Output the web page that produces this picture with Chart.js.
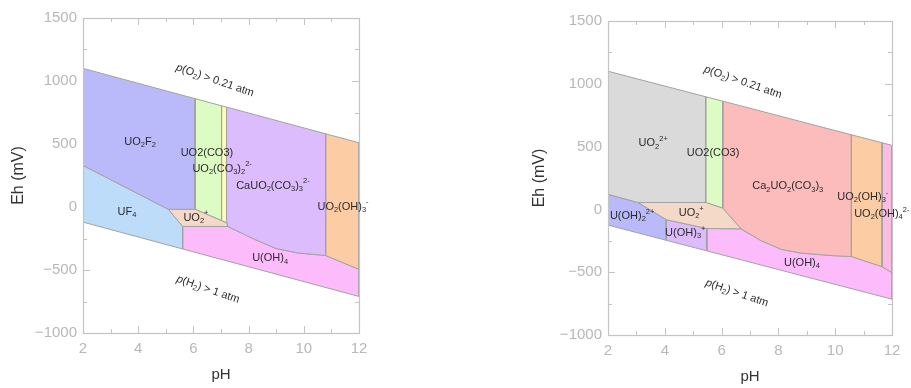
<!DOCTYPE html>
<html lang="en">
<head>
<meta charset="UTF-8">
<title>Eh-pH diagrams</title>
<script src="https://cdn.jsdelivr.net/npm/chart.js"></script>
<style>
  body { margin: 0; background: #fff; }
  canvas { position: absolute; top: 0; }
  #leftChart { left: 0; }
  #rightChart { left: 460px; }
</style>
</head>
<body>
<canvas id="leftChart" width="380" height="388"></canvas>
<canvas id="rightChart" width="451" height="388"></canvas>
<script>
// axis ticks
const phTicks = [2, 4, 6, 8, 10, 12];
const phMinor = [3, 5, 7, 9, 11];
const ehTicks = [-1000, -500, 0, 500, 1000, 1500];
const ehMinor = [-750, -250, 250, 750, 1250];

// left diagram: stability fields as [pH, Eh (mV)] vertices
const leftUO2F2 = [[2, 1100], [6.06, 860], [6.06, -18], [5.09, -18], [2, 330]];
const leftUF4 = [[2, 330], [5.09, -18], [5.61, -155], [5.61, -333], [2, -120]];
const leftUO2p = [[5.09, -18], [6.06, -18], [7.2, -125], [7.25, -155], [5.61, -155]];
const leftUO2CO3 = [[6.06, 860], [7.02, 803], [7.02, -108], [6.06, -18]];
const leftUO2CO32 = [[7.02, 803], [7.2, 793], [7.2, -125], [7.02, -108]];
const leftCaUO2 = [[7.2, 793], [10.79, 581], [10.79, -385], [9.8, -365], [9.0, -330], [8.2, -255], [7.25, -155], [7.2, -125]];
const leftUO2OH3 = [[10.79, 581], [12, 510], [12, -495], [10.79, -385]];
const leftUOH4 = [[5.61, -155], [7.25, -155], [8.2, -255], [9.0, -330], [9.8, -365], [10.79, -385], [12, -495], [12, -710], [5.61, -333]];

// right diagram
const rightUO2 = [[2, 1100], [5.44, 897], [5.44, 55], [3.05, 55], [2, 120]];
const rightUOH2 = [[2, 120], [3.05, 55], [4.05, -82], [4.05, -246], [2, -125]];
const rightUO2p = [[3.05, 55], [5.44, 55], [6.04, 10], [6.68, -155], [5.48, -152], [4.05, -82]];
const rightUOH3 = [[4.05, -82], [5.48, -152], [5.48, -330], [4.05, -246]];
const rightUO2CO3 = [[5.44, 897], [6.04, 862], [6.04, 10], [5.44, 55]];
const rightCa2UO2 = [[6.04, 862], [10.57, 594], [10.57, -375], [9.9, -368], [8.8, -348], [8.1, -318], [7.4, -250], [6.68, -155], [6.04, 10]];
const rightUO2OH3 = [[10.57, 594], [11.65, 531], [11.65, -456], [10.57, -375]];
const rightUO2OH4 = [[11.65, 531], [12, 510], [12, -504], [11.65, -456]];
const rightUOH4 = [[5.48, -152], [6.68, -155], [7.4, -250], [8.1, -318], [8.8, -348], [9.9, -368], [10.57, -375], [11.65, -456], [12, -504], [12, -715], [5.48, -330]];

// labels: position [pH, Eh] and text parts (_ sub, ^ sup, ~ italic)
const leftLabels = [
  {at: [4.07, 517], parts: ['UO', '_2', 'F', '_2']},
  {at: [3.59, -37], parts: ['UF', '_4']},
  {at: [6.49, 429], parts: ['UO2(CO3)']},
  {at: [7.04, 303], parts: ['UO', '_2', '(CO', '_3', ')', '_2', '^2-']},
  {at: [8.88, 168], parts: ['CaUO', '_2', '(CO', '_3', ')', '_3', '^2-']},
  {at: [11.42, 2], parts: ['UO', '_2', '(OH)', '_3', '^-']},
  {at: [6.09, -85], parts: ['UO', '_2', '^+']},
  {at: [8.78, -408], parts: ['U(OH)', '_4']},
  {at: [6.78, 1005], parts: ['~p', '(O', '_2', ') > 0.21 atm'], rot: 19},
  {at: [6.53, -654], parts: ['~p', '(H', '_2', ') > 1 atm'], rot: 19}
];
const rightLabels = [
  {at: [3.59, 527], parts: ['UO', '_2', '^2+']},
  {at: [5.70, 448], parts: ['UO2(CO3)']},
  {at: [8.33, 185], parts: ['Ca', '_2', 'UO', '_2', '(CO', '_3', ')', '_3']},
  {at: [10.97, 98], parts: ['UO', '_2', '(OH)', '_3', '^-']},
  {at: [11.64, -37], parts: ['UO', '_2', '(OH)', '_4', '^2-']},
  {at: [2.85, -53], parts: ['U(OH)', '_2', '^2+']},
  {at: [4.93, -29], parts: ['UO', '_2', '^+']},
  {at: [4.72, -188], parts: ['U(OH)', '_3', '^+']},
  {at: [8.83, -427], parts: ['U(OH)', '_4']},
  {at: [6.75, 1013], parts: ['~p', '(O', '_2', ') > 0.21 atm'], rot: 19},
  {at: [6.54, -666], parts: ['~p', '(H', '_2', ') > 1 atm'], rot: 19}
];

const FONT = '"Liberation Sans", Arial, Helvetica, sans-serif';

function regions(list) {
  return list.map(([pts, color]) => ({
    data: pts.concat([pts[0]]).map(p => ({x: p[0], y: p[1]})),
    backgroundColor: color,
    borderColor: '#a2a2a2',
    borderWidth: 1,
    fill: 'shape',
    showLine: true,
    pointRadius: 0,
    tension: 0
  }));
}

// inward ticks on all sides + frame
const framePlugin = {
  id: 'frame',
  beforeDatasetsDraw(chart) {
    const {ctx, chartArea: a, scales: {x, y}} = chart;
    ctx.save();
    ctx.strokeStyle = '#c4c4c4';
    ctx.lineWidth = 1;
    ctx.beginPath();
    const xt = (v, len) => {
      const px = Math.round(x.getPixelForValue(v)) + 0.5;
      ctx.moveTo(px, a.bottom); ctx.lineTo(px, a.bottom - len);
      ctx.moveTo(px, a.top); ctx.lineTo(px, a.top + len);
    };
    const yt = (v, len) => {
      const py = Math.round(y.getPixelForValue(v)) + 0.5;
      ctx.moveTo(a.left, py); ctx.lineTo(a.left + len, py);
      ctx.moveTo(a.right, py); ctx.lineTo(a.right - len, py);
    };
    phTicks.forEach(v => xt(v, 7));
    phMinor.forEach(v => xt(v, 4));
    ehTicks.forEach(v => yt(v, 7));
    ehMinor.forEach(v => yt(v, 4));
    ctx.stroke();
    ctx.restore();
  },
  afterDatasetsDraw(chart) {
    const {ctx, chartArea: a} = chart;
    ctx.save();
    ctx.strokeStyle = '#c4c4c4';
    ctx.lineWidth = 1.2;
    ctx.strokeRect(Math.round(a.left) + 0.5, Math.round(a.top) + 0.5, Math.round(a.width), Math.round(a.height));
    ctx.restore();
  }
};

const labelPlugin = {
  id: 'regionLabels',
  afterDatasetsDraw(chart, args, opts) {
    const {ctx, scales: {x, y}} = chart;
    const size = 11;
    const small = size * 0.68;
    ctx.save();
    ctx.fillStyle = '#2b2b2b';
    ctx.textBaseline = 'middle';
    ctx.textAlign = 'left';
    (opts.items || []).forEach(lab => {
      const segs = lab.parts.map(p => {
        const k = p[0];
        if (k === '_') return {t: p.slice(1), f: `${small}px ${FONT}`, dy: size * 0.3};
        if (k === '^') return {t: p.slice(1), f: `${small}px ${FONT}`, dy: -size * 0.4};
        if (k === '~') return {t: p.slice(1), f: `italic ${size}px ${FONT}`, dy: 0};
        return {t: p, f: `${size}px ${FONT}`, dy: 0};
      });
      let w = 0;
      segs.forEach(s => { ctx.font = s.f; s.w = ctx.measureText(s.t).width; w += s.w; });
      ctx.save();
      ctx.translate(x.getPixelForValue(lab.at[0]), y.getPixelForValue(lab.at[1]));
      if (lab.rot) ctx.rotate(lab.rot * Math.PI / 180);
      let cx = -w / 2;
      segs.forEach(s => { ctx.font = s.f; ctx.fillText(s.t, cx, s.dy); cx += s.w; });
      ctx.restore();
    });
    ctx.restore();
  }
};

function makeChart(id, datasets, labels, pad, yWidth, xHeight, yTitlePad, xTitlePad) {
  return new Chart(document.getElementById(id), {
    type: 'scatter',
    data: {datasets},
    options: {
      responsive: false,
      animation: false,
      devicePixelRatio: 1,
      layout: {padding: pad},
      plugins: {
        legend: {display: false},
        tooltip: {enabled: false},
        regionLabels: {items: labels}
      },
      scales: {
        x: {
          type: 'linear', min: 2, max: 12,
          afterBuildTicks: s => { s.ticks = phTicks.map(v => ({value: v})); },
          afterFit: s => { s.height = xHeight; },
          grid: {display: false, drawTicks: false},
          border: {display: false},
          ticks: {color: '#b8b8b8', font: {family: FONT, size: 15}, padding: 7, maxRotation: 0},
          title: {display: true, text: 'pH', color: '#333', font: {family: FONT, size: 15}, padding: {top: 0, bottom: xTitlePad}}
        },
        y: {
          type: 'linear', min: -1000, max: 1500,
          afterBuildTicks: s => { s.ticks = ehTicks.map(v => ({value: v})); },
          afterFit: s => { s.width = yWidth; },
          grid: {display: false, drawTicks: false},
          border: {display: false},
          ticks: {color: '#b8b8b8', font: {family: FONT, size: 15}, padding: 6,
            callback: v => v < 0 ? '\u2212' + Math.abs(v) : String(v)},
          title: {display: true, text: 'Eh (mV)', color: '#333', font: {family: FONT, size: 16}, padding: {top: yTitlePad, bottom: 0}}
        }
      }
    },
    plugins: [framePlugin, labelPlugin]
  });
}

makeChart('leftChart', regions([
  [leftUO2F2, '#babafb'],
  [leftUF4, '#bcdcfa'],
  [leftUO2p, '#f4d8c8'],
  [leftUO2CO3, '#dcfcc4'],
  [leftUO2CO32, '#fcfcb8'],
  [leftCaUO2, '#dcbcfc'],
  [leftUO2OH3, '#fccca4'],
  [leftUOH4, '#fcbcfc']
]), leftLabels, {left: 0, top: 18, right: 21, bottom: 0}, 83, 55, 9, 4);

makeChart('rightChart', regions([
  [rightUO2, '#dadada'],
  [rightUOH2, '#babafb'],
  [rightUO2p, '#f4d8c8'],
  [rightUOH3, '#dcbcfc'],
  [rightUO2CO3, '#dcfcc4'],
  [rightCa2UO2, '#fcbcbc'],
  [rightUO2OH3, '#fccca4'],
  [rightUO2OH4, '#fcbce4'],
  [rightUOH4, '#fcbcfc']
]), rightLabels, {left: 61, top: 21, right: 19, bottom: 0}, 87, 53, 9, 2);
</script>
</body>
</html>
